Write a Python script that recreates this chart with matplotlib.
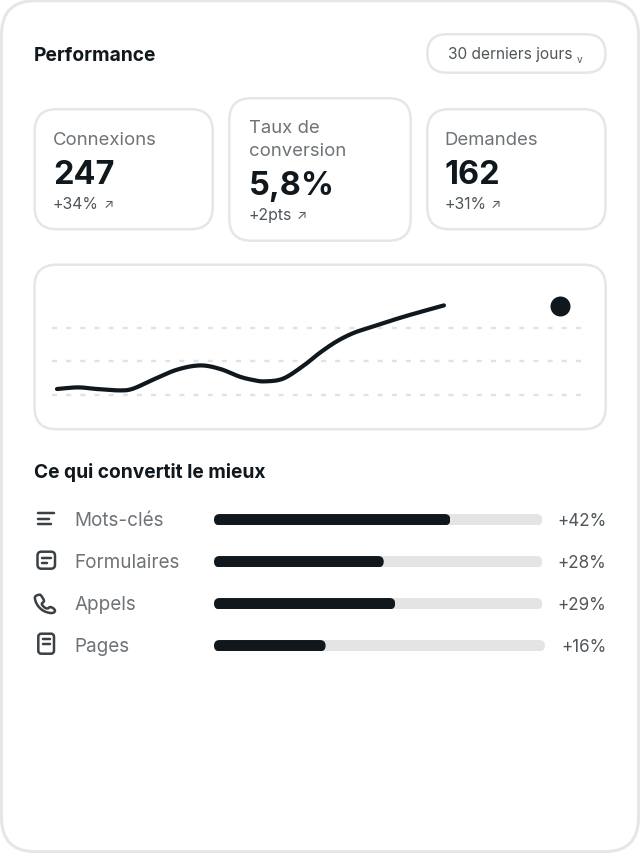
import numpy as np
import matplotlib
matplotlib.use('Agg')
import matplotlib.pyplot as plt
from matplotlib.patches import FancyBboxPatch, PathPatch
from matplotlib.path import Path
from matplotlib.transforms import IdentityTransform

plt.rcParams['font.family'] = ['Inter', 'DejaVu Sans']

# donnees
periode = '30 derniers jours'
kpi_noms = ['Connexions', 'Taux de\nconversion', 'Demandes']
kpi_valeurs = ['247', '5,8%', '162']
kpi_deltas = ['+34%', '+2pts', '+31%']

jours = [0, 1.25, 2.39, 3.76, 4.54, 5.73, 7.16, 8.54, 9.73, 10.9, 11.7, 12.4,
         13.5, 14.7, 15.7, 16.7, 17.7, 18.7, 20.7, 23.1]
valeurs = [8.5, 10.9, 8.5, 6.4, 9, 22.4, 37.3, 43.7, 38.5, 27, 22, 19.9,
           24, 43, 62.7, 79.6, 92.1, 100.4, 116.4, 133.3]
dernier_jour = 30
dernier_point = 132.8
niveaux = [0, 50, 100]

canaux = ['Mots-clés', 'Formulaires', 'Appels', 'Pages']
canaux_labels = ['+42%', '+28%', '+29%', '+16%']
canaux_parts = [72, 51.7, 55.2, 34]
canaux_pistes = [100, 100, 100, 100.8]

W, H = 640, 854
DY = 0.7  # tout le contenu descend un peu
NOIR = '#10181d'
GRIS = '#6e7377'
GRIS_F = '#50565a'
BORD = '#e6e6e6'
PX = 0.72  # un pixel en points


def boite(ax, x0, y0, x1, y1, r, lw=2.5, ec=BORD, fc='white'):
    p = FancyBboxPatch((x0, y0), x1 - x0, y1 - y0,
                       boxstyle='round,pad=0,rounding_size=%g' % r,
                       lw=lw * PX, ec=ec, fc=fc)
    ax.add_patch(p)


def axes_px(x0, y0, x1, y1):
    a = fig.add_axes([x0 / W, 1 - (y1 + DY) / H, (x1 - x0) / W, (y1 - y0) / H])
    a.axis('off')
    a.patch.set_alpha(0)
    return a


def lissage(x, y, n=16):
    # Catmull-Rom, seulement pour le trace entre les points lus
    p = np.column_stack([x, y]).astype(float)
    p = np.vstack([2 * p[0] - p[1], p, 2 * p[-1] - p[-2]])
    res = []
    for i in range(1, len(p) - 2):
        t = np.linspace(0, 1, n)[:, None]
        res.append(0.5 * (2 * p[i] + (p[i + 1] - p[i - 1]) * t
                          + (2 * p[i - 1] - 5 * p[i] + 4 * p[i + 1] - p[i + 2]) * t**2
                          + (3 * p[i] - p[i - 1] - 3 * p[i + 1] + p[i + 2]) * t**3))
    res = np.vstack(res)
    return res[:, 0], res[:, 1]


fig = plt.figure(figsize=(W / 100, H / 100), dpi=100, facecolor='white')
ax = fig.add_axes([0, 0, 1, 1])
ax.set_xlim(0, W)
ax.set_ylim(H - DY, -DY)
ax.axis('off')

# carte principale et en-tete
boite(ax, 1.5, 1, 638.5, 852, 34, lw=3)
ax.text(34, 60, 'Performance', fontsize=19.2 * PX, fontweight='bold', color=NOIR)
boite(ax, 427.3, 34.5, 605.5, 73, 19.5)
ax.text(448.5, 58.5, periode, fontsize=15.5 * PX, color=GRIS_F)
ax.text(580, 62, 'v', fontsize=10 * PX, color=GRIS_F, ha='center')

# cartes KPI
cartes = [(34.7, 109.5, 212.7, 229.5), (229.3, 98.5, 410.7, 241), (427.3, 109.5, 605.5, 229.5)]
textes_x = [53, 249, 444.5]
for c, x, nom, val, d in zip(cartes, textes_x, kpi_noms, kpi_valeurs, kpi_deltas):
    boite(ax, c[0], c[1], c[2], c[3], 22)
    base = round(c[1]) + 34
    lignes = nom.split('\n')
    for i, l in enumerate(lignes):
        ax.text(x, base + 23 * i, l, fontsize=18.5 * PX, color=GRIS)
    b2 = base + 23 * (len(lignes) - 1)
    ax.text(x, b2 + 39.5, val, fontsize=32.5 * PX, fontweight='bold', color=NOIR)
    t = ax.text(x, b2 + 64, d, fontsize=15.8 * PX, color=GRIS_F)
    fig.canvas.draw()
    bb = t.get_window_extent()
    ax.text(bb.x1 + 9.5, b2 + 63.5, '↗', fontsize=13 * PX, color=GRIS_F, ha='center')

# courbe
boite(ax, 34.5, 265, 605.7, 429.5, 22)
ac = axes_px(34, 265, 606, 430)
ac.set_xlim(-23 / 16.75, 549 / 16.75)
ac.set_ylim((395 - 430) / 0.67, (395 - 265) / 0.67)
ac.hlines(niveaux, -5 / 16.75, 525 / 16.75, color='#e2e2e2', lw=2.4 * PX,
          linestyles=(0, (2.08, 3.82)))
lx, ly = lissage(jours, valeurs)
ac.plot(lx, ly, color=NOIR, lw=4.2 * PX, solid_capstyle='round', solid_joinstyle='round')
ac.plot([dernier_jour], [dernier_point], 'o', color=NOIR, ms=20 * PX, mew=0)

# bloc du bas
ax.text(34, 477.3, 'Ce qui convertit le mieux', fontsize=19.2 * PX, fontweight='bold', color=NOIR)
rangs = np.arange(len(canaux))
ab = axes_px(214, 499, 542.3, 667)
ab.set_xlim(0, 100)
ab.set_ylim(3.5, -0.5)
pistes = ab.barh(rangs, canaux_pistes, height=0.27, color='#e4e4e4')
barres = ab.barh(rangs, canaux_parts, height=0.27, color=NOIR)
fig.canvas.draw()
for rect in list(pistes) + list(barres):
    e = rect.get_window_extent()
    forme = FancyBboxPatch((e.x0, e.y0), e.width, e.height,
                           boxstyle='round,pad=0,rounding_size=%g' % (e.height / 2),
                           transform=IdentityTransform())
    rect.set_clip_box(None)
    rect.set_clip_path(forme)

for i, (nom, lab) in enumerate(zip(canaux, canaux_labels)):
    y = 525 + 42 * i
    ax.text(74.5, y, nom, fontsize=18.9 * PX, color=GRIS)
    ax.text(606.5, y, lab, fontsize=17 * PX, color=GRIS_F, ha='right')

# icones
IC = '#3a4044'
kw = dict(color=IC, lw=2.5 * PX, solid_capstyle='round')
ax.plot([38, 54], [513.3, 513.3], **kw)
ax.plot([38, 49], [518.8, 518.8], **kw)
ax.plot([38, 51], [524.3, 524.3], **kw)
boite(ax, 37.5, 552, 55, 569, 4, lw=2.5, ec=IC)
ax.plot([42, 50.5], [558.3, 558.3], **kw)
ax.plot([42, 46.7], [563.3, 563.3], **kw)
boite(ax, 38.3, 634, 54, 654, 3, lw=2.5, ec=IC)
ax.plot([43, 50], [639.5, 639.5], **kw)
ax.plot([43, 50], [644.5, 644.5], **kw)
tel = Path([(35, 599), (34, 596), (38, 595), (40, 595), (41, 595), (44, 600), (44, 601),
            (44, 603), (41, 603), (42, 605), (44, 608), (47, 610), (49, 608), (50, 606),
            (55, 609), (55, 611), (55, 613), (52, 614), (49, 613), (42, 612), (36, 606), (35, 599)],
           [Path.MOVETO] + [Path.CURVE4] * 21)
ax.add_patch(PathPatch(tel, fc='none', ec=IC, lw=2.5 * PX, joinstyle='round'))

fig.savefig('out.png', dpi=100)
